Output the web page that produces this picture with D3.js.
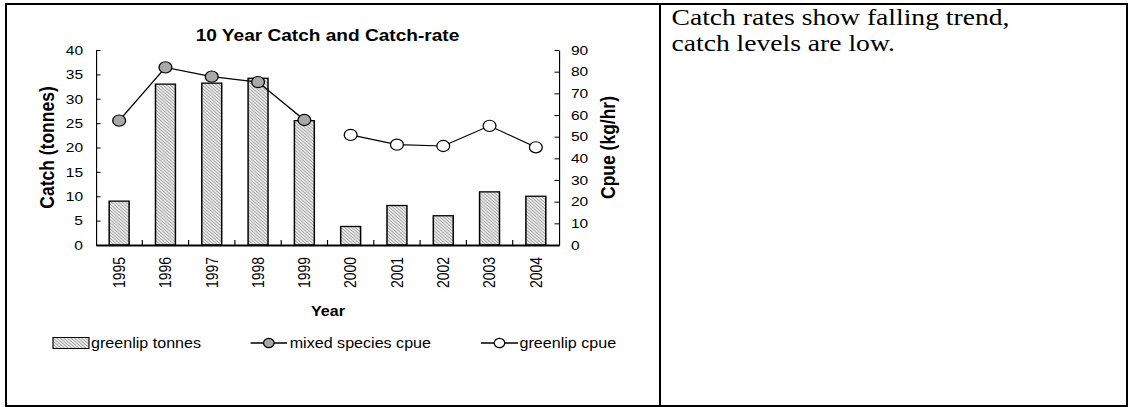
<!DOCTYPE html>
<html>
<head>
<meta charset="utf-8">
<script src="https://cdn.jsdelivr.net/npm/d3@7"></script>
<style>
  html, body { margin: 0; padding: 0; background: #fff; }
  svg { display: block; }
  text { fill: #000; }
</style>
</head>
<body>
<svg id="chart" width="1129" height="407"></svg>
<script>
// ---- data ----
const years = ["1995","1996","1997","1998","1999","2000","2001","2002","2003","2004"];
const greenlipTonnes = [9, 33, 33.2, 34.2, 25.5, 3.8, 8.1, 6, 10.9, 10];
const mixedYears = ["1995","1996","1997","1998","1999"];
const mixedCpue = [57.4, 82, 77.7, 75.2, 57.7];
const greenlipYears = ["2000","2001","2002","2003","2004"];
const greenlipCpue = [50.8, 46.3, 45.7, 55, 45.1];
const leftTicks = [0,5,10,15,20,25,30,35,40];
const rightTicks = [0,10,20,30,40,50,60,70,80,90];
const legendLabels = ["greenlip tonnes", "mixed species cpue", "greenlip cpue"];
const titleText = "10 Year Catch and Catch-rate";
const noteLines = ["Catch rates show falling trend,", "catch levels are low."];

// ---- layout (screen px; the picture is horizontally stretched) ----
const K = 1.15;
const sx = v => v / K;
const plotL = 96, plotR = 559, plotT = 50, plotB = 245;
const SANS = "'Liberation Sans', Arial, sans-serif";
const SERIF = "'Liberation Serif', 'Times New Roman', serif";

const svg = d3.select("#chart");

// frame (table borders)
const frame = svg.append("g").attr("stroke", "#000").attr("stroke-width", 2);
frame.append("line").attr("x1", 5).attr("x2", 1128).attr("y1", 4).attr("y2", 4);
frame.append("line").attr("x1", 6).attr("x2", 6).attr("y1", 3).attr("y2", 407);
frame.append("line").attr("x1", 660).attr("x2", 660).attr("y1", 3).attr("y2", 407);
frame.append("line").attr("x1", 1127).attr("x2", 1127).attr("y1", 3).attr("y2", 407);
frame.append("line").attr("x1", 5).attr("x2", 1128).attr("y1", 406).attr("y2", 406);

const g = svg.append("g").attr("transform", `scale(${K},1)`);

// pattern for bars
const defs = svg.append("defs");
const pat = defs.append("pattern").attr("id", "hatch")
  .attr("patternUnits", "userSpaceOnUse").attr("width", 2.2).attr("height", 2.2)
  .attr("patternTransform", "rotate(-45)");
pat.append("rect").attr("width", 2.2).attr("height", 2.2).attr("fill", "#ececec");
pat.append("rect").attr("width", 0.8).attr("height", 2.2).attr("fill", "#a0a0a0");

// scales
const x = d3.scaleBand().domain(years).range([sx(plotL), sx(plotR)]);
const yL = d3.scaleLinear().domain([0, 40]).range([plotB, plotT]);
const yR = d3.scaleLinear().domain([0, 90]).range([plotB, plotT]);

// bars
const barW = x.bandwidth() * 0.43;
g.selectAll("rect.bar").data(years).join("rect").attr("class", "bar")
  .attr("x", d => x(d) + (x.bandwidth() - barW) / 2)
  .attr("width", barW)
  .attr("y", (d, i) => yL(greenlipTonnes[i]))
  .attr("height", (d, i) => plotB - yL(greenlipTonnes[i]))
  .attr("fill", "url(#hatch)").attr("stroke", "#000").attr("stroke-width", 1.3);

// left axis
const axL = g.append("g").attr("transform", `translate(${sx(plotL)},0)`)
  .call(d3.axisLeft(yL).tickValues(leftTicks).tickSizeInner(-4.5 / K).tickSizeOuter(0).tickPadding(13 / K));
axL.select(".domain").attr("stroke", "#000").attr("stroke-width", 1);
axL.selectAll(".tick line").attr("stroke", "#000");
axL.selectAll("text").attr("font-size", 13.5).style("font-family", SANS);

// right axis
const axR = g.append("g").attr("transform", `translate(${sx(plotR)},0)`)
  .call(d3.axisRight(yR).tickValues(rightTicks).tickSizeInner(-4.5 / K).tickSizeOuter(0).tickPadding(12 / K));
axR.select(".domain").attr("stroke", "#000").attr("stroke-width", 1);
axR.selectAll(".tick line").attr("stroke", "#000");
axR.selectAll("text").attr("font-size", 13.5).style("font-family", SANS);

// x axis
const axX = g.append("g").attr("transform", `translate(0,${plotB})`)
  .call(d3.axisBottom(x).tickSize(0).tickPadding(0));
axX.select(".domain").attr("stroke", "#000").attr("stroke-width", 2);
axX.selectAll("text")
  .attr("font-size", 14).style("font-family", SANS)
  .attr("transform", "rotate(-90)")
  .attr("text-anchor", "end")
  .attr("x", -12).attr("y", 0).attr("dy", "0.36em");
// category boundary ticks
g.selectAll("line.ctick").data(years.slice(1)).join("line").attr("class", "ctick")
  .attr("x1", d => x(d)).attr("x2", d => x(d))
  .attr("y1", plotB).attr("y2", plotB - 5)
  .attr("stroke", "#000").attr("stroke-width", 1);

// lines
const line = d3.line();
const mixedPts = mixedYears.map((d, i) => [x(d) + x.bandwidth() / 2, yR(mixedCpue[i])]);
const greenPts = greenlipYears.map((d, i) => [x(d) + x.bandwidth() / 2, yR(greenlipCpue[i])]);
g.append("path").attr("d", line(mixedPts)).attr("fill", "none").attr("stroke", "#000").attr("stroke-width", 1.2);
g.append("path").attr("d", line(greenPts)).attr("fill", "none").attr("stroke", "#000").attr("stroke-width", 1.2);
const R = 5.6;
g.selectAll("circle.mixed").data(mixedPts).join("circle").attr("class", "mixed")
  .attr("cx", d => d[0]).attr("cy", d => d[1]).attr("r", R)
  .attr("fill", "#a8a8a8").attr("stroke", "#000").attr("stroke-width", 1.1);
g.selectAll("circle.green").data(greenPts).join("circle").attr("class", "green")
  .attr("cx", d => d[0]).attr("cy", d => d[1]).attr("r", R)
  .attr("fill", "#fff").attr("stroke", "#000").attr("stroke-width", 1.1);

// titles
g.append("text").attr("x", sx(327.5)).attr("y", 41)
  .attr("text-anchor", "middle").attr("font-weight", "bold").attr("font-size", 16.6)
  .style("font-family", SANS).text(titleText);
g.append("text").attr("transform", `translate(${sx(47)},147.5) rotate(-90)`)
  .attr("text-anchor", "middle").attr("dy", "0.35em")
  .attr("font-weight", "bold").attr("font-size", 17.5).style("font-family", SANS).text("Catch (tonnes)");
g.append("text").attr("transform", `translate(${sx(608)},147.5) rotate(-90)`)
  .attr("text-anchor", "middle").attr("dy", "0.35em")
  .attr("font-weight", "bold").attr("font-size", 17.5).style("font-family", SANS).text("Cpue (kg/hr)");
g.append("text").attr("x", sx(328)).attr("y", 311).attr("dy", "0.35em")
  .attr("text-anchor", "middle").attr("font-weight", "bold").attr("font-size", 14)
  .style("font-family", SANS).text("Year");

// legend
const legY = 343;
const lg = g.append("g");
lg.append("rect").attr("x", sx(53)).attr("y", legY - 5.5).attr("width", sx(89) - sx(53)).attr("height", 11)
  .attr("fill", "url(#hatch)").attr("stroke", "#000").attr("stroke-width", 1);
lg.append("text").attr("x", sx(91)).attr("y", legY).attr("dy", "0.35em").attr("font-size", 14)
  .style("font-family", SANS).text(legendLabels[0]);
[[250.6, 287, "#a8a8a8", 289.7, legendLabels[1]], [481, 518, "#fff", 519.5, legendLabels[2]]].forEach(([a, b, f, tx, lab]) => {
  lg.append("line").attr("x1", sx(a)).attr("x2", sx(b)).attr("y1", legY).attr("y2", legY)
    .attr("stroke", "#000").attr("stroke-width", 1.3);
  lg.append("circle").attr("cx", sx((a + b) / 2)).attr("cy", legY).attr("r", 4.6)
    .attr("fill", f).attr("stroke", "#000").attr("stroke-width", 1.1);
  lg.append("text").attr("x", sx(tx)).attr("y", legY).attr("dy", "0.35em").attr("font-size", 14)
    .style("font-family", SANS).text(lab);
});

// note text (right cell)
g.selectAll("text.note").data(noteLines).join("text").attr("class", "note")
  .attr("x", sx(671.5)).attr("y", (d, i) => 25 + i * 26)
  .style("font-family", SERIF).attr("font-size", 24)
  .text(d => d);
</script>
</body>
</html>
